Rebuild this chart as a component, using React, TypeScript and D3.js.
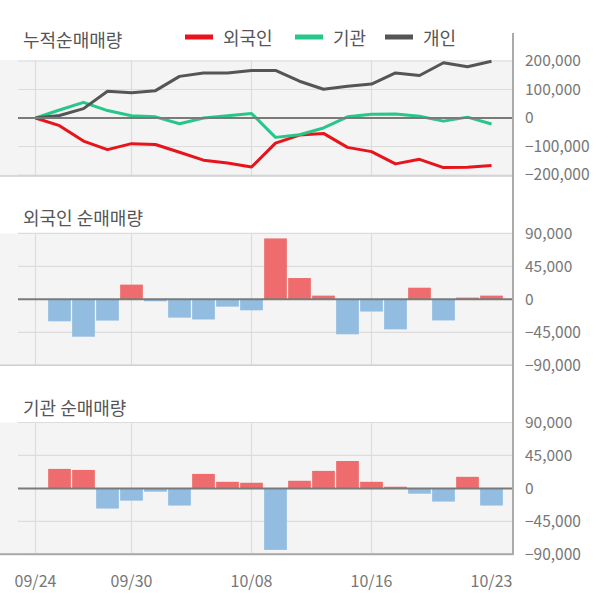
import React from "react";
import * as d3 from "d3";

const dates = ["09/24","09/25","09/26","09/27","09/30","10/01","10/02","10/04","10/07","10/08","10/10","10/11","10/14","10/15","10/16","10/17","10/18","10/21","10/22","10/23"];
const tickDates = ["09/24","09/30","10/08","10/16","10/23"];
const gridDates = ["09/24","09/30","10/08","10/16"];

const foreignCum = [0,-27,-81,-111,-90,-93,-120,-148,-158,-172,-88,-60,-54,-103,-118,-161,-145,-174,-173,-167].map(v=>v*1000);
const instCum = [0,28,55,26,8,4,-20,0,8,16,-68,-59,-35,4,13,14,6,-11,3,-21].map(v=>v*1000);
const indivCum = [0,9,33,94,89,96,146,158,158,167,167,129,101,111,119,158,149,194,180,199].map(v=>v*1000);

const foreignDaily = [0,-30,-51,-29,20,-2.7,-25,-27.5,-10,-15,83,29,5,-47.7,-16.7,-41,15.8,-28.8,2.3,5].map(v=>v*1000);
const instDaily = [0,26.6,25.2,-27.5,-16.7,-4.5,-23.4,19.8,9,7.7,-84,10.4,23.9,37.4,9,2.3,-7.2,-18,15.8,-23.4].map(v=>v*1000);

const cumTicks = [200000,100000,0,-100000,-200000];
const barTicks = [90000,45000,0,-45000,-90000];

const FONT = "'Noto Sans CJK KR', 'Noto Sans', sans-serif";
const AXIS_X = 513;
const fmt = d3.format(",");

const x = d3.scalePoint<string>().domain(dates).range([35.5, 491.5]);

function Panel({ top, bottom, yScale, ticks, children }: any) {
  return (
    <g>
      <rect x={0} y={top} width={AXIS_X} height={bottom - top} fill="#f4f4f4" />
      {ticks.filter((t: number) => t !== 0).map((t: number) => (
        <line key={t} x1={18} x2={AXIS_X} y1={yScale(t)} y2={yScale(t)} stroke="#dcdcdc" strokeWidth={1.2} />
      ))}
      {gridDates.map((d) => (
        <line key={d} x1={x(d)} x2={x(d)} y1={top} y2={bottom} stroke="#dcdcdc" strokeWidth={1.2} />
      ))}
      <line x1={0} x2={AXIS_X} y1={bottom} y2={bottom} stroke="#cfcfcf" strokeWidth={1.5} />
      {children}
      <line x1={18} x2={AXIS_X} y1={yScale(0)} y2={yScale(0)} stroke="#7a7a7a" strokeWidth={2} />
      {ticks.map((t: number) => (
        <text key={t} x={525} y={yScale(t)} dy="0.35em" fontSize={15.5} fill="#777" fontFamily={FONT}>{fmt(t)}</text>
      ))}
    </g>
  );
}

function Bars({ data, yScale }: any) {
  const bw = 22.7;
  return (
    <g>
      {data.map((v: number, i: number) => {
        if (v === 0) return null;
        const y0 = yScale(0), y1 = yScale(v);
        return (
          <rect key={i} x={(x(dates[i]) as number) - bw / 2} y={Math.min(y0, y1)} width={bw} height={Math.abs(y1 - y0)}
            fill={v > 0 ? "#ee6c6e" : "#92bde0"} />
        );
      })}
    </g>
  );
}

export default function App() {
  const yCum = d3.scaleLinear().domain([-203500, 203500]).range([176, 60]);
  const yF = d3.scaleLinear().domain([-90000, 90000]).range([365.3, 233.3]);
  const yI = d3.scaleLinear().domain([-90000, 90000]).range([554.3, 422.5]);
  const line = (arr: number[]) =>
    d3.line<number>().x((_, i) => x(dates[i]) as number).y((v) => yCum(v))(arr) as string;

  const series = [
    { name: "외국인", data: foreignCum, color: "#e8141b" },
    { name: "기관", data: instCum, color: "#27c68a" },
    { name: "개인", data: indivCum, color: "#555555" },
  ];
  const legendPos = [185, 295, 385];

  return (
    <svg width={600} height={604} style={{ position: "absolute", left: 0, top: 0 }}>
      <rect width={600} height={604} fill="#fff" />
      <text x={23} y={46.5} fontSize={18} fill="#555" fontFamily={FONT}>누적순매매량</text>
      {series.map((s, i) => (
        <g key={s.name}>
          <line x1={legendPos[i]} x2={legendPos[i] + 28} y1={37} y2={37} stroke={s.color} strokeWidth={5} />
          <text x={legendPos[i] + 38} y={45} fontSize={18} fill="#555" fontFamily={FONT}>{s.name}</text>
        </g>
      ))}
      <Panel top={60} bottom={176} yScale={yCum} ticks={cumTicks}>
        {series.map((s) => (
          <path key={s.name} d={line(s.data)} fill="none" stroke={s.color} strokeWidth={3} strokeLinejoin="round" />
        ))}
      </Panel>

      <text x={23} y={225} fontSize={18} fill="#555" fontFamily={FONT}>외국인 순매매량</text>
      <Panel top={233.3} bottom={365.3} yScale={yF} ticks={barTicks}>
        <Bars data={foreignDaily} yScale={yF} />
      </Panel>

      <text x={23} y={415} fontSize={18} fill="#555" fontFamily={FONT}>기관 순매매량</text>
      <Panel top={422.5} bottom={554.3} yScale={yI} ticks={barTicks}>
        <Bars data={instDaily} yScale={yI} />
      </Panel>
      <line x1={0} x2={AXIS_X} y1={554.3} y2={554.3} stroke="#aaa" strokeWidth={2} />

      <line x1={AXIS_X} x2={AXIS_X} y1={33} y2={555} stroke="#aaa" strokeWidth={2} />

      {tickDates.map((d) => (
        <text key={d} x={x(d)} y={587} textAnchor="middle" fontSize={16} fill="#777" fontFamily={FONT}>{d}</text>
      ))}
    </svg>
  );
}
